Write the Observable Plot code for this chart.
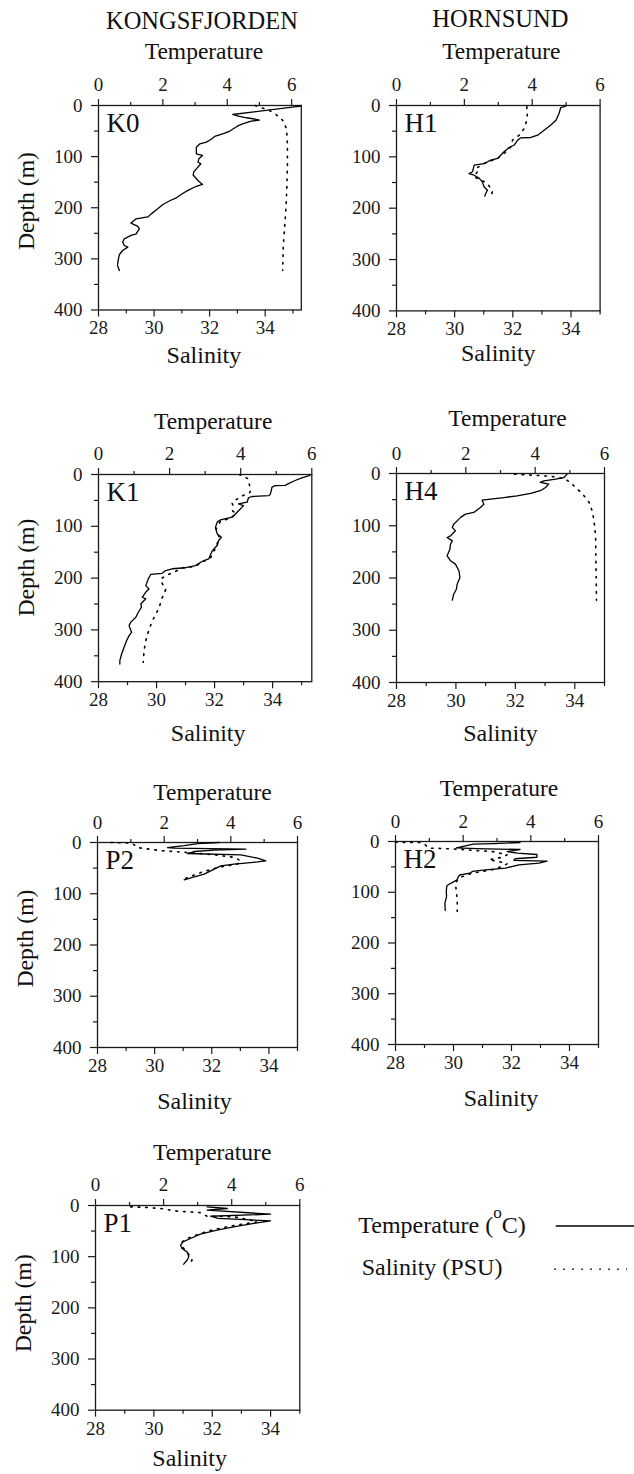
<!DOCTYPE html>
<html>
<head>
<meta charset="utf-8">
<script src="https://cdn.jsdelivr.net/npm/d3@7"></script>
<script src="https://cdn.jsdelivr.net/npm/@observablehq/plot@0.6"></script>
<style>
  html, body { margin: 0; padding: 0; background: #fff; }
  #chart { position: relative; width: 634px; height: 1474px; overflow: hidden; background: #fff; }
  #chart svg { position: absolute; background: transparent; overflow: visible; }
</style>
</head>
<body>
<div id="chart"></div>
<script>
// ---------- DATA: [depth (m), value] ----------
const K0_temperature = [[0,6.29],[1.3,6.27],[17.6,4.17],[21,4.35],[24,4.6],[27,4.9],[28.5,5.0],[30.5,4.75],[33,4.62],[36.5,4.45],[41,4.3],[45.6,4.19],[50,4.08],[55,3.88],[60.6,3.61],[66,3.5],[71.7,3.35],[75,3.15],[81.5,3.04],[94.5,3.04],[97.8,3.23],[104,3.12],[110.8,3.09],[114,3.18],[124,3.04],[130,2.96],[136,2.94],[146.7,3.09],[154.5,3.23],[158,3.04],[166,2.78],[172.7,2.6],[180.6,2.42],[185.8,2.23],[193.6,2.0],[202,1.84],[212,1.64],[218,1.53],[221.6,1.17],[230,1.01],[236.6,1.22],[241,1.27],[251,1.17],[254,1.01],[260.8,0.8],[267,0.75],[273.8,0.8],[277,0.91],[283.6,0.75],[291.4,0.65],[303,0.61],[313,0.59],[322.7,0.65]];
const K0_salinity = [[0,33.64],[5,33.9],[9.8,34.15],[17.6,34.39],[29,34.63],[45.6,34.77],[75,34.8],[120,34.8],[160,34.78],[199,34.75],[238,34.7],[277,34.65],[322.7,34.63]];

const H1_temperature = [[0,5.0],[1,4.99],[4,4.84],[15.6,4.79],[28.6,4.7],[38,4.55],[48,4.35],[57.8,4.16],[62.3,3.96],[63,3.66],[67.5,3.57],[77,3.47],[81.8,3.32],[90,3.17],[96.8,3.07],[103,2.98],[106.5,2.78],[113,2.58],[116,2.29],[129,2.24],[132.5,2.14],[135.7,2.29],[142,2.44],[148.7,2.53],[158.4,2.58],[165,2.68],[171.4,2.63],[176.6,2.6]];
const H1_salinity = [[2.6,32.48],[15.6,32.5],[28.6,32.48],[44.8,32.39],[57.8,32.22],[67.5,31.99],[80.5,31.93],[93.5,31.7],[103,31.47],[113,31.01],[122.7,30.73],[129,30.78],[139,30.67],[145,30.9],[152,31.13],[161.7,31.24],[168,31.3],[176.6,31.24]];

const K1_temperature = [[0,5.98],[2,5.93],[6.4,5.72],[11.6,5.53],[18,5.33],[21,5.25],[21.5,4.97],[24.5,4.88],[31,4.86],[38.6,4.83],[40.6,4.79],[42.5,4.32],[45,4.22],[53.5,4.18],[56.7,3.94],[60,4.08],[63,4.04],[72.8,3.9],[82.4,3.76],[87.6,3.43],[92,3.34],[101.8,3.29],[114.7,3.34],[121,3.46],[127.5,3.38],[137,3.34],[147,3.2],[163,3.1],[167.5,2.92],[176,2.73],[180,2.45],[182,2.07],[185.5,1.89],[190.7,1.79],[193,1.47],[201.6,1.4],[214.5,1.33],[221,1.42],[227,1.33],[237,1.23],[240,1.33],[250,1.19],[256,1.21],[266,1.12],[275.7,1.05],[285,0.91],[291.8,0.86],[304.7,0.93],[311,0.86],[320.8,0.79],[333.7,0.72],[346.5,0.65],[359.4,0.6],[366,0.6]];
const K1_salinity = [[0,32.85],[4,33.0],[8,33.15],[20,33.2],[30,33.25],[36,33.2],[40,33.0],[45,32.85],[50,32.7],[55,32.6],[62,32.65],[70,32.62],[76,32.74],[85.7,32.5],[89,32.22],[105,32.05],[121,32.16],[140,32.05],[160,31.87],[169,31.59],[178,31.3],[180,30.9],[188.7,30.6],[195,30.32],[201.6,30.15],[211,30.2],[221,30.32],[230.6,30.26],[243.5,30.15],[256,30.1],[269,29.98],[282,29.86],[295,29.77],[308,29.69],[320.8,29.63],[340,29.57],[362.6,29.54]];

const H4_temperature = [[1.3,4.92],[7.7,4.83],[10.8,4.59],[14,4.25],[17,4.15],[20.4,4.39],[26.8,4.3],[33,4.15],[38,3.87],[42.7,3.48],[46,3.1],[49,2.71],[51,2.47],[58.7,2.52],[65,2.42],[74.6,2.23],[77.8,1.99],[84,1.85],[90.6,1.75],[97,1.65],[103,1.61],[109.7,1.7],[119.3,1.56],[122.5,1.46],[129,1.61],[135,1.56],[144.8,1.54],[157.6,1.46],[167,1.56],[173.5,1.7],[186,1.8],[199,1.83],[211.8,1.75],[221,1.73],[231,1.65],[242.4,1.61]];
const H4_salinity = [[1.3,31.97],[2.6,32.4],[4.5,32.96],[6.4,33.35],[10,33.65],[17,33.85],[28,34.05],[39,34.26],[55,34.48],[74,34.6],[93,34.65],[119,34.7],[160,34.71],[200,34.72],[242.4,34.73]];

const P2_temperature = [[0,3.65],[2,3.0],[6,2.6],[9.8,2.1],[11,2.3],[13,4.45],[15,3.5],[17.6,2.9],[21.5,2.7],[24,4.3],[30.6,4.8],[35.8,5.05],[38,4.8],[42,4.1],[45.5,3.7],[52,3.5],[61.8,3.2],[68,2.85],[72.8,2.6]];
const P2_salinity = [[0,28.47],[1,29.17],[6.5,29.35],[10,29.4],[16,30.22],[19.5,31.15],[24,32.08],[29,32.78],[35.8,33.02],[42,32.9],[48.8,32.2],[58.5,31.62],[68.3,31.15],[73,31.01]];

const H2_temperature = [[2,3.68],[4,2.9],[5,2.3],[12.5,1.8],[14,2.4],[15.8,3.68],[18,3.5],[20,3.3],[23,3.6],[25.6,4.18],[31,4.18],[34,3.54],[37,3.5],[38.8,4.48],[42.7,4.24],[46,3.65],[52.5,3.25],[55.8,2.66],[59,2.27],[62.4,2.2],[66,1.9],[69,1.86],[75.5,1.82],[80,1.7],[86.7,1.52],[98.5,1.5],[108,1.51],[121.5,1.46],[136,1.47]];
const H2_salinity = [[1.5,28.0],[2,28.9],[6.6,29.03],[13,29.15],[13.8,29.6],[15,30.07],[17.7,30.76],[19.7,31.33],[26,31.85],[31,31.68],[36,31.22],[39.4,31.56],[44,31.85],[49,31.68],[55.8,31.33],[62.4,30.64],[72,30.18],[82,30.07],[95,30.09],[115,30.13],[138,30.13]];

const P1_temperature = [[2.6,3.28],[5.9,3.87],[9,3.28],[17,5.14],[21,3.38],[25,3.6],[30,5.14],[35,4.65],[41.7,4.06],[48,3.57],[56,3.08],[64.5,2.79],[71,2.57],[77.5,2.5],[84,2.54],[90.6,2.69],[100,2.74],[107,2.69],[114.7,2.59]];
const P1_salinity = [[2.6,29.2],[3.5,29.66],[5.9,30.23],[9,30.57],[11,30.8],[14,31.6],[21,31.82],[22,32.74],[27,33.2],[32,33.54],[35,33.2],[41.7,32.5],[47,32.05],[54.7,31.6],[64.5,31.14],[71,30.97],[80.8,30.97],[90.6,31.14],[100,31.25],[107,31.31],[114.7,31.2]];

const tempTicks = [0, 2, 4, 6];
const tempMinorTicks = [1, 3, 5];
const salTicks = [28, 30, 32, 34];
const salMinorTicks = [29, 31, 33, 35];
const depthTicks = [0, 100, 200, 300, 400];
const depthMinorTicks = [50, 150, 250, 350];

const columnTitles = ["KONGSFJORDEN", "HORNSUND"];
const legendLabels = ["Temperature", "Salinity (PSU)"];

// ---------- LAYOUT ----------
const FONT = '"Liberation Serif", "Times New Roman", serif';
const INK = "#1a1a1a";
const M = {l: 80, t: 100, r: 14, b: 80};
const intFmt = d => String(d);

const panels = [
  {name:"K0", frame:[97.7,105,300.5,309.5], tMax:6.3, sMax:35.3, temp:K0_temperature, sal:K0_salinity, depth:true, title:columnTitles[0], titleBase:28.3, tDx:4, tDy:46.7, sDx:4, sDy:52.7, dDy:-6.7},
  {name:"H1", frame:[395.7,105.3,599.3,310.7], tMax:6, sMax:35, temp:H1_temperature, sal:H1_salinity, depth:false, title:columnTitles[1], titleBase:27.3, tDx:3, tDy:46, sDx:0, sDy:50.5},
  {name:"K1", frame:[97.7,474.3,311,681.5], tMax:6, sMax:35.35, temp:K1_temperature, sal:K1_salinity, depth:true, tDx:8, tDy:45, sDx:3, sDy:59.5, dDy:-10.5},
  {name:"H4", frame:[396,472.7,604,681.7], tMax:6, sMax:35, temp:H4_temperature, sal:H4_salinity, depth:false, tDx:7, tDy:47.7, sDx:0, sDy:58},
  {name:"P2", frame:[96.7,841.7,296.7,1046.7], tMax:6, sMax:35, temp:P2_temperature, sal:P2_salinity, depth:true, tDx:15, tDy:42.4, sDx:-3, sDy:61, dDy:-6.5},
  {name:"H2", frame:[395.3,841,598.3,1044], tMax:6, sMax:35, temp:H2_temperature, sal:H2_salinity, depth:false, tDx:2, tDy:46, sDx:4, sDy:61},
  {name:"P1", frame:[95,1205.3,299.3,1410], tMax:6, sMax:35, temp:P1_temperature, sal:P1_salinity, depth:true, tDx:14.5, tDy:45.3, sDx:-8, sDy:55.5, dDy:-4.6}
];

const chart = document.getElementById("chart");
const depthY = {domain: [0, 400], reverse: true, axis: null};

function place(svg, p) {
  const [L, T] = p.frame;
  svg.style.left = (L - M.l) + "px";
  svg.style.top = (T - M.t) + "px";
  chart.appendChild(svg);
}

for (const p of panels) {
  const [L, T, R, B] = p.frame;
  const W = R - L + M.l + M.r, H = B - T + M.t + M.b;
  const base = {
    width: W, height: H,
    marginLeft: M.l, marginTop: M.t, marginRight: M.r, marginBottom: M.b,
    style: {fontFamily: FONT, background: "transparent", overflow: "visible", color: INK}
  };

  // Temperature layer (top axis, depth axis, frame, solid line)
  const tMarks = [
    Plot.frame({stroke: INK, strokeWidth: 1.3}),
    Plot.axisX({anchor: "top", ticks: tempTicks, tickFormat: intFmt, tickSize: 7, tickPadding: 7, fontSize: 19, label: null, strokeWidth: 1.2}),
    Plot.axisX({anchor: "top", ticks: tempMinorTicks, tickSize: 4, tickFormat: () => "", label: null, strokeWidth: 1.2}),
    Plot.axisY({anchor: "left", ticks: depthTicks, tickFormat: intFmt, tickSize: 7, tickPadding: 9, fontSize: 19, label: null, strokeWidth: 1.2}),
    Plot.axisY({anchor: "left", ticks: depthMinorTicks, tickSize: 4, tickFormat: () => "", label: null, strokeWidth: 1.2}),
    Plot.line(p.temp, {x: d => d[1], y: d => d[0], stroke: "#000", strokeWidth: 1.3}),
    Plot.text([p.name], {text: d => d, frameAnchor: "top-left", dx: 8, dy: 26.5, textAnchor: "start", lineAnchor: "bottom", fontSize: 27, fill: "#111"}),
    Plot.text(["Temperature"], {text: d => d, frameAnchor: "top", dx: p.tDx, dy: -p.tDy, lineAnchor: "bottom", fontSize: 23.5, fill: "#111"})
  ];
  if (p.depth) {
    tMarks.push(Plot.text(["Depth (m)"], {text: d => d, frameAnchor: "left", rotate: -90, dx: -64.4, dy: p.dDy, textAnchor: "middle", lineAnchor: "bottom", fontSize: 23.7, fill: "#111"}));
  }
  if (p.title) {
    tMarks.push(Plot.text([p.title], {text: d => d, frameAnchor: "top", dx: 2, dy: -(T - p.titleBase), lineAnchor: "bottom", fontSize: 24.5, fill: "#111"}));
  }
  place(Plot.plot({...base, x: {domain: [0, p.tMax], axis: null}, y: depthY, marks: tMarks}), p);

  // Salinity layer (bottom axis, dotted line)
  const sMarks = [
    Plot.axisX({anchor: "bottom", ticks: salTicks, tickFormat: intFmt, tickSize: 7, tickPadding: 4, fontSize: 19, label: null, strokeWidth: 1.2}),
    Plot.axisX({anchor: "bottom", ticks: salMinorTicks, tickSize: 4, tickFormat: () => "", label: null, strokeWidth: 1.2}),
    Plot.line(p.sal, {x: d => d[1], y: d => d[0], stroke: "#000", strokeWidth: 1.6, strokeDasharray: "1.6,6"}),
    Plot.text(["Salinity"], {text: d => d, frameAnchor: "bottom", dx: p.sDx, dy: p.sDy, lineAnchor: "bottom", fontSize: 24, fill: "#111"})
  ];
  place(Plot.plot({...base, x: {domain: [28, p.sMax], axis: null}, y: depthY, marks: sMarks}), p);
}

// ---------- LEGEND ----------
const NS = "http://www.w3.org/2000/svg";
const lg = document.createElementNS(NS, "svg");
lg.setAttribute("width", 294);
lg.setAttribute("height", 100);
lg.style.left = "340px";
lg.style.top = "1195px";
lg.style.fontFamily = FONT;
lg.innerHTML =
  `<text x="18.3" y="38.3" font-size="24" fill="#111">${legendLabels[0]} (<tspan font-size="17" dy="-15">o</tspan><tspan dy="15">C)</tspan></text>` +
  `<line x1="215.7" x2="294" y1="31" y2="31" stroke="#000" stroke-width="1.3"/>` +
  `<text x="21.7" y="80" font-size="24" fill="#111">${legendLabels[1]}</text>` +
  `<line x1="214.3" x2="287" y1="74.3" y2="74.3" stroke="#000" stroke-width="1.5" stroke-dasharray="1.5,7.5"/>`;
chart.appendChild(lg);
</script>
</body>
</html>
